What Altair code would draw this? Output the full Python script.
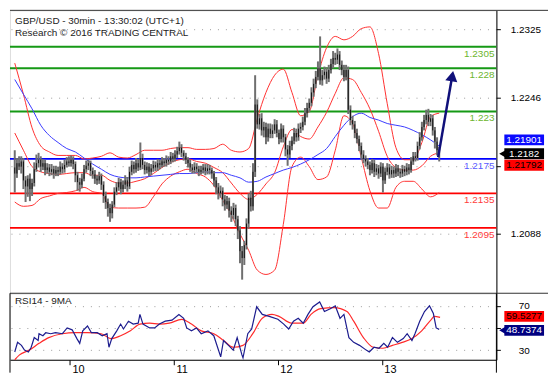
import altair as alt
import pandas as pd

# ---------------- data ----------------
closes = [
    1.2158, 1.2170, 1.2166, 1.2172, 1.2150, 1.2143, 1.2152, 1.2140, 1.2147, 1.2163,
    1.2170, 1.2174, 1.2166, 1.2170, 1.2162, 1.2165, 1.2160, 1.2163, 1.2158, 1.2162,
    1.2160, 1.2166, 1.2163, 1.2168, 1.2172, 1.2170, 1.2174, 1.2169, 1.2156, 1.2148,
    1.2145, 1.2152, 1.2163, 1.2167, 1.2170, 1.2161, 1.2157, 1.2152, 1.2150, 1.2155,
    1.2145, 1.2132, 1.2125, 1.2118, 1.2112, 1.2122, 1.2137, 1.2142, 1.2148, 1.2140,
    1.2145, 1.2150, 1.2143, 1.2160, 1.2168, 1.2163, 1.2170, 1.2165, 1.2176, 1.2168,
    1.2162, 1.2166, 1.2160, 1.2164, 1.2168, 1.2165, 1.2170, 1.2168, 1.2172, 1.2170,
    1.2174, 1.2172, 1.2178, 1.2175, 1.2180, 1.2184, 1.2188, 1.2182, 1.2178, 1.2174,
    1.2170, 1.2165, 1.2162, 1.2166, 1.2163, 1.2160, 1.2162, 1.2165, 1.2161, 1.2164,
    1.2162, 1.2158, 1.2150, 1.2142, 1.2135, 1.2138, 1.2128, 1.2122, 1.2126, 1.2115,
    1.2110, 1.2118, 1.2105, 1.2092, 1.2068, 1.2060, 1.2075, 1.2100, 1.2130, 1.2120,
    1.2160, 1.2238, 1.2215, 1.2222, 1.2208, 1.2212, 1.2200, 1.2210, 1.2204, 1.2208,
    1.2215, 1.2205, 1.2198, 1.2210, 1.2200, 1.2186, 1.2180, 1.2190, 1.2196, 1.2205,
    1.2200, 1.2210, 1.2212, 1.2218, 1.2228, 1.2234, 1.2240, 1.2252, 1.2262, 1.2270,
    1.2280, 1.2266, 1.2272, 1.2276, 1.2268, 1.2278, 1.2285, 1.2292, 1.2290, 1.2296,
    1.2284, 1.2278, 1.2270, 1.2278, 1.2232, 1.2220, 1.2215, 1.2205, 1.2198, 1.2190,
    1.2180, 1.2175, 1.2172, 1.2168, 1.2162, 1.2170, 1.2160, 1.2164, 1.2158, 1.2166,
    1.2150, 1.2160, 1.2165, 1.2157, 1.2162, 1.2158, 1.2164, 1.2160, 1.2158, 1.2163,
    1.2160, 1.2165, 1.2162, 1.2172, 1.2178, 1.2176, 1.2190, 1.2200, 1.2212, 1.2220,
    1.2226, 1.2218, 1.2222, 1.2208, 1.2195, 1.2185, 1.2182,
]
first_open = 1.2165
# wick lengths in pips (0.0001) above / below the candle body
up_wick = [
    20, 6, 8, 6, 4, 5, 4, 6, 5, 8, 10, 8, 4, 5, 4, 5, 4, 6, 4, 5,
    4, 6, 4, 6, 5, 6, 5, 4, 3, 4, 5, 6, 5, 6, 4, 3, 4, 5, 4, 5,
    3, 4, 5, 4, 5, 4, 5, 6, 5, 4, 5, 6, 4, 6, 5, 4, 6, 5, 18, 5,
    4, 5, 4, 5, 5, 4, 5, 4, 5, 4, 5, 4, 5, 4, 5, 5, 7, 4, 3, 4,
    3, 4, 4, 5, 4, 4, 5, 4, 4, 5, 4, 3, 3, 4, 5, 6, 4, 5, 6, 4,
    5, 6, 4, 4, 5, 6, 5, 6, 5, 8, 10, 34, 6, 5, 6, 6, 5, 6, 6, 7,
    6, 5, 4, 6, 4, 4, 5, 6, 5, 6, 5, 6, 5, 6, 6, 6, 5, 6, 6, 7,
    8, 37, 6, 6, 5, 6, 6, 8, 6, 7, 4, 5, 6, 6, 4, 5, 5, 4, 5, 4,
    4, 5, 4, 4, 4, 5, 4, 5, 4, 5, 4, 5, 5, 4, 5, 4, 5, 4, 4, 5,
    4, 5, 4, 5, 5, 5, 5, 6, 6, 6, 6, 7, 5, 4, 4, 5, 4,
]
down_wick = [
    22, 5, 4, 8, 10, 18, 12, 14, 8, 4, 3, 5, 6, 4, 6, 4, 5, 4, 6, 3,
    5, 3, 5, 4, 3, 4, 4, 6, 8, 10, 8, 4, 3, 4, 5, 6, 5, 6, 5, 4,
    6, 8, 8, 10, 10, 6, 3, 4, 4, 6, 4, 5, 6, 3, 4, 5, 4, 4, 3, 5,
    5, 4, 5, 4, 4, 4, 4, 5, 3, 4, 4, 4, 3, 4, 3, 4, 4, 5, 5, 5,
    5, 5, 4, 4, 4, 5, 3, 4, 5, 4, 5, 6, 7, 8, 7, 5, 8, 7, 5, 8,
    8, 5, 8, 10, 14, 25, 8, 5, 6, 6, 5, 6, 5, 6, 6, 8, 8, 5, 5, 5,
    4, 5, 6, 4, 6, 8, 13, 4, 5, 4, 5, 4, 5, 4, 4, 5, 5, 4, 5, 5,
    4, 5, 6, 5, 6, 4, 4, 5, 6, 5, 6, 6, 5, 4, 5, 6, 6, 6, 5, 6,
    6, 5, 6, 5, 6, 4, 6, 4, 6, 4, 14, 4, 4, 5, 4, 5, 4, 5, 5, 4,
    5, 4, 5, 3, 4, 4, 3, 4, 4, 4, 5, 5, 5, 6, 8, 6, 10,
]

# indicator samples, one every 4 bars (bar 0, 4, ..., 196)
band_idx = list(range(0, 197, 4))
upper_band = [
    1.2286, 1.2250, 1.2211, 1.2190, 1.2183, 1.2179, 1.2179, 1.2179, 1.2175, 1.2176,
    1.2178, 1.2182, 1.2177, 1.2176, 1.2180, 1.2185, 1.2185, 1.2185, 1.2187, 1.2188,
    1.2188, 1.2186, 1.2186, 1.2187, 1.2192, 1.2185, 1.2183, 1.2187, 1.2222, 1.2252,
    1.2272, 1.2279, 1.2252, 1.2225, 1.2230, 1.2272, 1.2304, 1.2317, 1.2313, 1.2317,
    1.2326, 1.2328, 1.2297, 1.2239, 1.2188, 1.2174, 1.2174, 1.2194, 1.2224, 1.2228,
]
middle_band = [
    1.2205, 1.2185, 1.2166, 1.2160, 1.2158, 1.2157, 1.2158, 1.2159, 1.2159, 1.2156,
    1.2156, 1.2150, 1.2147, 1.2147, 1.2149, 1.2152, 1.2158, 1.2165, 1.2171, 1.2174,
    1.2175, 1.2172, 1.2170, 1.2165, 1.2159, 1.2147, 1.2135, 1.2128, 1.2134, 1.2146,
    1.2159, 1.2189, 1.2209, 1.2201, 1.2198, 1.2212, 1.2229, 1.2251, 1.2269, 1.2267,
    1.2252, 1.2233, 1.2207, 1.2178, 1.2165, 1.2162, 1.2162, 1.2167, 1.2178, 1.2182,
]
lower_band = [
    1.2125, 1.2120, 1.2121, 1.2129, 1.2132, 1.2135, 1.2136, 1.2138, 1.2142, 1.2137,
    1.2135, 1.2119, 1.2118, 1.2118, 1.2118, 1.2119, 1.2131, 1.2146, 1.2155, 1.2160,
    1.2163, 1.2158, 1.2154, 1.2144, 1.2127, 1.2110, 1.2088, 1.2069, 1.2046, 1.2041,
    1.2046, 1.2099, 1.2166, 1.2177, 1.2166, 1.2151, 1.2154, 1.2185, 1.2225, 1.2216,
    1.2177, 1.2138, 1.2118, 1.2118, 1.2142, 1.2149, 1.2149, 1.2140, 1.2131, 1.2136,
]
blue_ma = [
    1.2267, 1.2250, 1.2233, 1.2214, 1.2202, 1.2194, 1.2187, 1.2183, 1.2176, 1.2169,
    1.2163, 1.2157, 1.2154, 1.2153, 1.2153, 1.2154, 1.2155, 1.2156, 1.2157, 1.2158,
    1.2158, 1.2159, 1.2160, 1.2159, 1.2159, 1.2156, 1.2153, 1.2148, 1.2149, 1.2154,
    1.2158, 1.2162, 1.2165, 1.2169, 1.2174, 1.2180, 1.2187, 1.2201, 1.2214, 1.2224,
    1.2228, 1.2223, 1.2220, 1.2216, 1.2214, 1.2212, 1.2208, 1.2203, 1.2197, 1.2190,
]

rsi_idx = [
    0, 1.3, 3.1, 4.5, 6.3, 7.6, 9.0, 10.8, 11.2, 13.0, 14.3, 16.6, 18.8, 22.0, 24.2,
    26.5, 28.7, 30.0, 31.4, 33.6, 35.4, 38.1, 40.4, 42.6, 43.5, 44.8, 47.1, 48.9,
    50.2, 52.5, 54.7, 57.0, 57.8, 59.2, 62.3, 64.6, 66.8, 69.5, 72.6, 75.8, 78.0,
    79.4, 81.6, 83.9, 86.1, 89.2, 91.9, 95.1, 96.4, 98.7, 100.9, 102.7, 104.9, 105.4,
    107.6, 109.4, 111.7, 114.3, 117.5, 121.5, 124.2, 126.5, 128.7, 130.9, 133.2,
    135.4, 137.7, 140.8, 143.0, 145.7, 148.0, 150.2, 152.0, 154.3, 156.5, 159.2,
    162.3, 163.7, 165.9, 168.2, 170.4, 172.2, 174.4, 176.7, 179.4, 181.2, 183.4,
    184.8, 187.0, 189.2, 191.5, 193.3, 194.6, 196.0,
]
rsi_val = [
    28.3, 37.0, 34.3, 30.0, 28.3, 32.6, 41.3, 38.7, 44.8, 43.0, 45.7, 44.8, 45.7, 44.8,
    50.0, 48.3, 40.4, 36.1, 47.4, 51.7, 45.7, 45.7, 43.0, 44.8, 32.6, 40.4, 47.4, 53.5,
    49.1, 56.1, 53.5, 54.3, 62.2, 53.5, 50.0, 50.0, 53.5, 56.1, 57.0, 62.2, 58.7, 50.0,
    47.4, 50.0, 44.8, 47.4, 43.0, 23.9, 38.7, 34.3, 30.0, 41.3, 25.7, 23.0, 44.8, 49.1,
    69.1, 62.2, 60.4, 57.8, 53.5, 49.1, 56.1, 58.7, 54.3, 62.2, 69.1, 73.5, 64.8, 67.4,
    70.0, 58.7, 62.2, 41.3, 37.0, 34.3, 30.0, 28.3, 32.6, 31.7, 36.1, 32.6, 41.3, 37.0,
    40.4, 44.8, 38.7, 44.8, 56.1, 64.8, 70.0, 63.0, 50.0, 48.7,
]
rsi_ma_idx = [
    0, 2.2, 6.7, 11.2, 15.7, 22.0, 27.8, 33.6, 39.9, 44.4, 48.9, 53.4, 57.8, 62.3,
    66.8, 71.3, 77.1, 81.6, 86.1, 91.9, 96.4, 100.9, 105.4, 109.9, 114.3, 118.8,
    122.0, 127.8, 133.2, 136.8, 141.3, 147.5, 153.4, 156.5, 161.0, 165.5, 170.0,
    174.4, 178.9, 183.4, 187.9, 192.4, 193.7, 196.4,
]
rsi_ma_val = [
    21.3, 25.7, 30.0, 36.1, 41.3, 44.8, 45.7, 45.7, 44.8, 40.4, 43.0, 47.4, 53.5, 54.3,
    53.5, 54.3, 57.8, 53.5, 47.4, 44.8, 38.7, 32.6, 34.3, 44.8, 58.7, 62.2, 60.4, 54.3,
    54.3, 62.2, 67.4, 68.3, 64.8, 56.1, 41.3, 32.6, 31.7, 34.3, 37.0, 40.4, 47.4, 57.8,
    60.4, 59.5,
]

levels = [1.2305, 1.228, 1.223, 1.2175, 1.2135, 1.2095]
level_text = ["1.2305", "1.228", "1.223", "1.2175", "1.2135", "1.2095"]
level_color = ["#159915", "#159915", "#159915", "#0000ff", "#ff0000", "#ff0000"]
level_text_color = ["#6cb52d", "#6cb52d", "#6cb52d", "#5a5aff", "#ff3b3b", "#ff3b3b"]

price_ticks = [1.2088, 1.2167, 1.2246, 1.2325]
hidden_price_label = 1.2167   # covered by the price boxes in the reference
rsi_ticks = [30, 50, 70]
day_starts = [25.5, 73.5, 121.5, 169.5]
day_labels = ["10", "11", "12", "13"]

arrow_idx = [195.5, 202.0]
arrow_price = [1.2177, 1.2271]

box_values = [1.21901, 1.2182, 1.21792]
box_texts = ["1.21901", "1.2182", "1.21792"]
box_fill = ["#0a0aff", "#000000", "#ff0000"]
box_ink = ["#ffffff", "#ffffff", "#000000"]
box_pointer = [False, True, False]
rsi_box_values = [59.5277, 48.7374]
rsi_box_texts = ["59.5277", "48.7374"]
rsi_box_fill = ["#ff0000", "#000080"]
rsi_box_ink = ["#000000", "#ffffff"]
rsi_box_pointer = [False, True]

title_1 = "GBP/USD - 30min - 13:30:02 (UTC+1)"
title_2 = "Research \u00a9 2016 TRADING CENTRAL"
rsi_title = "RSI14 - 9MA"

# ---------------- layout ----------------
W, H1, H2 = 490, 285, 67
XDOM = [-2.2, 222.4]
YDOM = [1.20192, 1.23472]
RDOM = [21.3, 81.3]
FONT = "Liberation Sans"
KP = (YDOM[1] - YDOM[0]) / H1   # price per pixel
KR = (RDOM[1] - RDOM[0]) / H2   # rsi per pixel
box_shift_px = [-6, 1, 10]
rsi_box_shift_px = [-1, 1]
BOX_H = 11

# ---------------- tables ----------------
opens = [first_open] + closes[:-1]
candles = pd.DataFrame({
    "i": list(range(len(closes))),
    "open": opens,
    "close": closes,
    "high": [max(o, c) + u / 10000 for o, c, u in zip(opens, closes, up_wick)],
    "low": [min(o, c) - d / 10000 for o, c, d in zip(opens, closes, down_wick)],
})
bands = pd.concat([
    pd.DataFrame({"i": band_idx, "p": upper_band, "s": "upper"}),
    pd.DataFrame({"i": band_idx, "p": middle_band, "s": "middle"}),
    pd.DataFrame({"i": band_idx, "p": lower_band, "s": "lower"}),
])
ma = pd.DataFrame({"i": band_idx, "p": blue_ma})
lv = pd.DataFrame({"p": levels, "t": level_text, "c": level_color, "tc": level_text_color})
arrow = pd.DataFrame({"i": arrow_idx, "p": arrow_price})
arrow_head = arrow.tail(1)


def box_table(vals, texts, fill, ink, ptr, shift, k):
    centers = [v - s * k for v, s in zip(vals, shift)]
    return pd.DataFrame({
        "c": centers,
        "lo": [c - BOX_H / 2 * k for c in centers],
        "hi": [c + BOX_H / 2 * k for c in centers],
        "t": texts, "f": fill, "ink": ink, "ptr": ptr,
    })


boxes = box_table(box_values, box_texts, box_fill, box_ink, box_pointer, box_shift_px, KP)
rboxes = box_table(rsi_box_values, rsi_box_texts, rsi_box_fill, rsi_box_ink,
                   rsi_box_pointer, rsi_box_shift_px, KR)

rsi = pd.DataFrame({"i": rsi_idx, "v": rsi_val})
rsi_ma = pd.DataFrame({"i": rsi_ma_idx, "v": rsi_ma_val})

# ---------------- encodings ----------------
price_axis = alt.Axis(orient="right", values=price_ticks, format=".4f", grid=True,
                      gridDash=[1, 7], gridColor="#9c9c9c", domainColor="#000",
                      tickColor="#000", tickSize=4, labelFontSize=10, labelColor="#000",
                      labelPadding=10, labelFont=FONT, title=None,
                      labelExpr=f"abs(datum.value - {hidden_price_label}) < 0.00001 ? '' : datum.label")
rsi_axis = alt.Axis(orient="right", values=rsi_ticks, grid=True, gridDash=[1, 7],
                    gridColor="#9c9c9c", domainColor="#000", tickColor="#000", tickSize=4,
                    labelFontSize=10, labelColor="#000", labelPadding=18, labelFont=FONT,
                    labelExpr="datum.value == 50 ? '' : datum.label", title=None)
day_expr = " : ".join(f"datum.value == {d} ? '{l}'" for d, l in zip(day_starts, day_labels)) + " : ''"
day_axis = alt.Axis(values=day_starts, labelExpr=day_expr, grid=False, domainColor="#000",
                    tickColor="#000", tickSize=5, labelAlign="left", labelBaseline="top",
                    labelPadding=-1, labelOffset=2, labelFontSize=11, labelColor="#000",
                    labelFont=FONT, title=None)


def X(f="i"):
    return alt.X(f"{f}:Q", scale=alt.Scale(domain=XDOM, nice=False, zero=False), axis=None)


def XR(f="i"):
    return alt.X(f"{f}:Q", scale=alt.Scale(domain=XDOM, nice=False, zero=False), axis=day_axis)


def Y(f):
    return alt.Y(f"{f}:Q", scale=alt.Scale(domain=YDOM, nice=False, zero=False), axis=price_axis)


def YR(f):
    return alt.Y(f"{f}:Q", scale=alt.Scale(domain=RDOM, nice=False, zero=False), axis=rsi_axis)


def one_row():
    return pd.DataFrame({"a": [0]})


# ---------------- main panel ----------------
level_lines = alt.Chart(lv).mark_rule(strokeWidth=2).encode(
    x=alt.value(0), x2=alt.value(W), y=Y("p"), color=alt.Color("c:N", scale=None))
level_labels = alt.Chart(lv).mark_text(align="right", baseline="top", dy=2, fontSize=10,
                                       font=FONT).encode(
    x=alt.value(W - 2), y=Y("p"), text="t:N", color=alt.Color("tc:N", scale=None))
band_lines = alt.Chart(bands).mark_line(color="#ff3030", strokeWidth=1,
                                        interpolate="monotone").encode(
    x=X(), y=Y("p"), detail="s:N")
ma_line = alt.Chart(ma).mark_line(color="#3a3aff", strokeWidth=1,
                                  interpolate="monotone").encode(x=X(), y=Y("p"))
wicks = alt.Chart(candles).mark_rule(color="#6f6f6f", strokeWidth=2).encode(
    x=X(), y=Y("low"), y2="high:Q")
bodies = alt.Chart(candles).mark_rule(color="#111111", strokeWidth=1).encode(
    x=X(), y=Y("open"), y2="close:Q")
arrow_line = alt.Chart(arrow).mark_line(color="#10107a", strokeWidth=2.5).encode(
    x=X(), y=Y("p"))
arrow_tip = alt.Chart(arrow_head).mark_point(shape="triangle-up", filled=True, size=150,
                                            angle=10, color="#10107a", opacity=1).encode(
    x=X(), y=Y("p"))
title_a = alt.Chart(pd.DataFrame({"t": [title_1]})).mark_text(
    align="left", baseline="alphabetic", fontSize=10, font=FONT, color="#222").encode(
    x=alt.value(5), y=alt.value(14), text="t:N")
title_b = alt.Chart(pd.DataFrame({"t": [title_2]})).mark_text(
    align="left", baseline="alphabetic", fontSize=10, font=FONT, color="#222").encode(
    x=alt.value(5), y=alt.value(26), text="t:N")
top_border = alt.Chart(one_row()).mark_rule(color="#333", strokeWidth=1).encode(
    x=alt.value(0), x2=alt.value(W + 52), y=alt.value(0))
box_rect = alt.Chart(boxes).mark_rect().encode(
    x=alt.value(W + 8), x2=alt.value(W + 48), y=Y("lo"), y2="hi:Q",
    color=alt.Color("f:N", scale=None))
box_ptr = alt.Chart(boxes[boxes.ptr]).mark_point(shape="triangle-left", filled=True,
                                                 size=55, opacity=1).encode(
    x=alt.value(W + 6), y=Y("c"), color=alt.Color("f:N", scale=None))
box_txt = alt.Chart(boxes).mark_text(fontSize=10, font=FONT, baseline="middle").encode(
    x=alt.value(W + 28), y=Y("c"), text="t:N", color=alt.Color("ink:N", scale=None))

main = alt.layer(
    level_lines, band_lines, ma_line, wicks, bodies, level_labels, arrow_line, arrow_tip,
    title_a, title_b, top_border, box_rect, box_ptr, box_txt,
).properties(width=W, height=H1)

# ---------------- RSI panel ----------------
rsi_line = alt.Chart(rsi).mark_line(color="#1c1c8e", strokeWidth=1.2).encode(
    x=XR(), y=YR("v"))
rsi_ma_line = alt.Chart(rsi_ma).mark_line(color="#ff2a2a", strokeWidth=1.2,
                                         interpolate="monotone").encode(x=XR(), y=YR("v"))
rsi_label = alt.Chart(pd.DataFrame({"t": [rsi_title]})).mark_text(
    align="left", baseline="alphabetic", fontSize=10, font=FONT, color="#222").encode(
    x=alt.value(5), y=alt.value(11), text="t:N")
rsi_top = alt.Chart(one_row()).mark_rule(color="#333", strokeWidth=1.2).encode(
    x=alt.value(0), x2=alt.value(W + 52), y=alt.value(0))
rsi_right = alt.Chart(one_row()).mark_rule(color="#000", strokeWidth=1).encode(
    x=alt.value(W), y=alt.value(0), y2=alt.value(H2 + 13))
rsi_left = alt.Chart(one_row()).mark_rule(color="#000", strokeWidth=1).encode(
    x=alt.value(0), y=alt.value(0), y2=alt.value(H2 + 13))
rbox_rect = alt.Chart(rboxes).mark_rect().encode(
    x=alt.value(W + 8), x2=alt.value(W + 48), y=YR("lo"), y2="hi:Q",
    color=alt.Color("f:N", scale=None))
rbox_ptr = alt.Chart(rboxes[rboxes.ptr]).mark_point(shape="triangle-left", filled=True,
                                                    size=55, opacity=1).encode(
    x=alt.value(W + 6), y=YR("c"), color=alt.Color("f:N", scale=None))
rbox_txt = alt.Chart(rboxes).mark_text(fontSize=10, font=FONT, baseline="middle").encode(
    x=alt.value(W + 28), y=YR("c"), text="t:N", color=alt.Color("ink:N", scale=None))

rsi_panel = alt.layer(
    rsi_ma_line, rsi_line, rsi_label, rsi_top, rsi_right, rsi_left,
    rbox_rect, rbox_ptr, rbox_txt,
).properties(width=W, height=H2)

chart = alt.vconcat(main, rsi_panel, spacing=0, bounds="flush").resolve_scale(
    x="independent", y="independent"
).configure_view(stroke="#000", strokeWidth=1).configure(
    background="#ffffff", padding=0
)

chart.save("out.html", embed_options={"renderer": "svg", "actions": False})
